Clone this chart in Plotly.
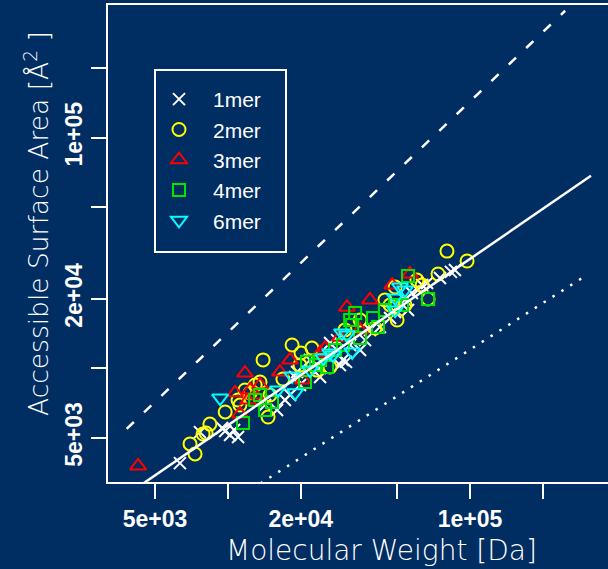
import plotly.graph_objects as go

# ---------------- data ----------------
mer1_mw = [6340, 7670, 9470, 9750, 10210, 11020, 10610, 15960, 18070, 19320, 18960, 24040,
           24040, 26420, 28250, 29040, 29880, 30750, 35160, 36880, 38640, 42460, 46770, 49070,
           55470, 53920, 57580, 60960, 63430, 66520, 75160, 83400, 86650, 21830, 17210, 14250,
           31990, 19860]
mer1_asa = [3890, 5300, 5520, 5360, 5150, 5045, 5410, 6610, 7670, 9650, 9180, 9180,
            10040, 12890, 13270, 10340, 10890, 10680, 12020, 13270, 14690, 15130, 16540, 17560,
            17910, 19820, 21240, 21880, 22990, 23450, 24640, 26210, 26730, 10890, 7295, 6940,
            12640, 8480]

mer2_mw = [6980, 7320, 7900, 8130, 8430, 9750, 11020, 11770, 12360, 13580, 13980, 14660,
           16880, 18420, 20050, 22250, 23330, 26420, 40530, 46770, 50000, 49070, 63430, 67150,
           73790, 80350, 97270, 11220, 12970, 14930, 19860, 30460, 35160, 44540, 53920, 60390]
mer2_asa = [4710, 4260, 5200, 5250, 5740, 6480, 7295, 8070, 7840, 8740, 10890, 6160,
            9000, 12640, 11670, 12260, 9840, 10140, 14980, 18850, 16220, 22530, 22990, 20010,
            25680, 32260, 29220, 6940, 8480, 7670, 10340, 14690, 16220, 19820, 18850, 24160]

mer3_mw = [4260, 11220, 11770, 12360, 13580, 12970, 10710, 12110, 20440, 24040, 25220, 29040,
           31040, 38640, 56490, 35160, 47680, 16410, 18070]
mer3_asa = [3780, 6350, 9550, 8070, 8480, 7670, 7840, 7295, 8910, 11670, 12260, 13670,
            18440, 19820, 25680, 14690, 22990, 9650, 10890]

mer4_mw = [11550, 12970, 14250, 15220, 13580, 20830, 21230, 23120, 25700, 29880, 31990, 32610,
           33560, 35160, 39760, 41690, 49070, 52400, 55470, 67150, 24040, 27720, 44540]
mer4_asa = [5810, 7295, 6610, 7150, 7670, 8740, 10680, 10340, 10140, 12640, 16220, 15440,
            17380, 13540, 16540, 15130, 18850, 18850, 25150, 20010, 10890, 12020, 17910]

mer6_mw = [9290, 16100, 18960, 18420, 24740, 26420, 27190, 29600, 31040, 32610, 49070, 49070,
           51400, 53920, 21830]
mer6_asa = [7440, 8070, 7840, 9280, 11110, 11670, 11440, 14260, 13980, 11790, 17910, 20210,
            22530, 21880, 9840]

# reference lines (end points)
fit_mw = [3000, 316000]
fit_asa = [2380, 68400]
upper_mw = [3820, 247200]
upper_asa = [5470, 354800]
lower_mw = [3000, 295800]
lower_asa = [1150, 24970]

major_ticks = [5000, 20000, 100000]
major_labels = ["5e+03", "2e+04", "1e+05"]
minor_ticks = [10000, 50000, 200000]

series = [
    ("1mer", mer1_mw, mer1_asa, "x-thin-open", "#ffffff", 12),
    ("2mer", mer2_mw, mer2_asa, "circle-open", "#ffff00", 13),
    ("3mer", mer3_mw, mer3_asa, "triangle-up-open", "#ff0000", 14),
    ("4mer", mer4_mw, mer4_asa, "square-open", "#00e600", 12),
    ("6mer", mer6_mw, mer6_asa, "triangle-down-open", "#00ffff", 14),
]

BG = "#002d62"

fig = go.Figure()
for name, xs, ys, sym, col, sz in series:
    fig.add_trace(go.Scatter(
        x=xs, y=ys, mode="markers", name=name,
        marker=dict(symbol=sym, size=sz, color=col, line=dict(color=col, width=2)),
    ))

fig.add_trace(go.Scatter(x=fit_mw, y=fit_asa, mode="lines", showlegend=False,
                         line=dict(color="white", width=2.5)))
fig.add_trace(go.Scatter(x=upper_mw, y=upper_asa, mode="lines", showlegend=False,
                         line=dict(color="white", width=2.5, dash="10px,14px")))
fig.add_trace(go.Scatter(x=lower_mw, y=lower_asa, mode="lines", showlegend=False,
                         line=dict(color="white", width=2.5, dash="2.5px,8px")))

W, H = 608, 569
L, R, T, B = 108, 0, 5, 87
pw, ph = W - L - R, H - T - B


def px(x):
    return (x - L) / pw


def py(y):
    return (H - B - y) / ph


TITLE_FONT = dict(color="white", family="DejaVu Sans", weight=200)

fig.update_layout(
    width=W, height=H,
    margin=dict(l=L, r=R, t=T, b=B, pad=0),
    paper_bgcolor=BG, plot_bgcolor=BG,
    font=dict(family="Liberation Sans", color="white"),
    legend=dict(
        x=px(145), y=py(79), xanchor="left", yanchor="top",
        bgcolor="rgba(0,0,0,0)", borderwidth=0,
        font=dict(size=21, color="white", family="Liberation Sans"),
        itemwidth=58,
    ),
    shapes=[dict(type="rect", xref="paper", yref="paper",
                 x0=px(155), x1=px(286), y0=py(252), y1=py(70),
                 line=dict(color="white", width=2))],
    annotations=[
        dict(text="Molecular Weight [Da]", xref="paper", yref="paper",
             x=px(381), y=py(550), xanchor="center", yanchor="middle", showarrow=False,
             font=dict(size=28, **TITLE_FONT)),
        dict(text="Accessible Surface Area [Å<sup>2</sup> ]", xref="paper", yref="paper",
             x=px(37), y=py(224), xanchor="center", yanchor="middle", showarrow=False,
             textangle=-90, font=dict(size=26.5, **TITLE_FONT)),
    ],
)

axis_common = dict(
    type="log", showgrid=False, zeroline=False,
    showline=True, linecolor="white", linewidth=2,
    ticks="outside", ticklen=15, tickwidth=2, tickcolor="white",
    tickmode="array", tickvals=major_ticks, ticktext=major_labels,
    minor=dict(tickmode="array", tickvals=minor_ticks, ticks="outside",
               ticklen=15, tickwidth=2, tickcolor="white", showgrid=False),
    tickfont=dict(size=23, color="white", family="Liberation Sans", weight="bold"),
)
fig.update_xaxes(range=[3.505, 5.570], mirror=True, **axis_common)
fig.update_yaxes(range=[3.508, 5.575], tickangle=-90, **axis_common)

fig.write_html("out.html",
               config={"displayModeBar": False},
               post_script="document.body.style.margin='0';document.body.style.padding='0';"
                           "document.body.style.overflow='hidden';")
